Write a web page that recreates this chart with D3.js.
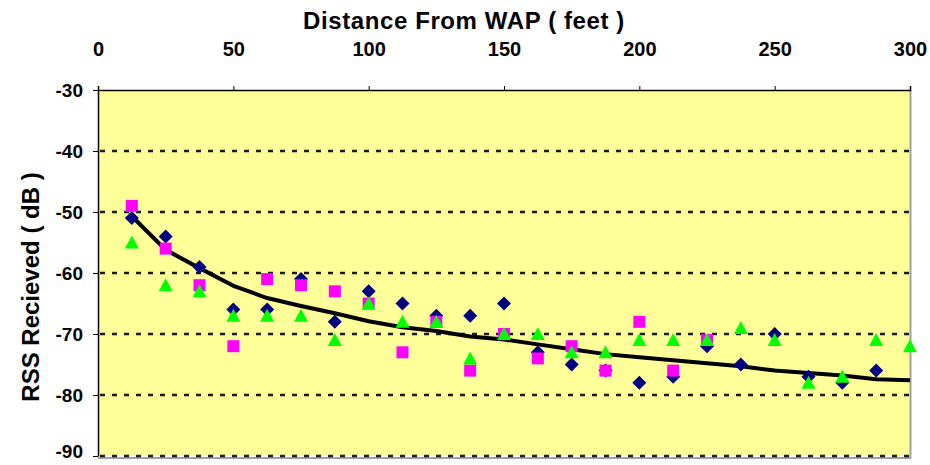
<!DOCTYPE html>
<html>
<head>
<meta charset="utf-8">
<script src="https://cdn.jsdelivr.net/npm/d3@7"></script>
<style>
  body { margin: 0; background: #fff; }
  svg { display: block; font-family: "Liberation Sans", Arial, sans-serif; }
</style>
</head>
<body>
<div id="chart"></div>
<script>
// distance in feet, RSS in dB
const distances = [12.5, 25, 37.5, 50, 62.5, 75, 87.5, 100, 112.5, 125, 137.5, 150,
  162.5, 175, 187.5, 200, 212.5, 225, 237.5, 250, 262.5, 275, 287.5, 300]

const seriesBlue = [-51, -54, -59, -66, -66, -61, -68, -63, -65, -67, -67, -65,
  -73, -75, -76, -78, -77, -72, -75, -70, -77, -78, -76, null]
const seriesPink = [-49, -56, -62, -72, -61, -62, -63, -65, -73, -68, -76, -70,
  -74, -72, -76, -68, -76, -71, null, null, null, null, null, null]
const seriesGreen = [-55, -62, -63, -67, -67, -67, -71, -65, -68, -68, -74, -70,
  -70, -73, -73, -71, -71, -71, -69, -71, -78, -77, -71, -72]
const trend = [-50.7, -56.2, -59.2, -62.1, -64.1, -65.4, -66.6, -67.9, -68.9, -69.5, -70.4, -70.9,
  -71.7, -72.5, -73.3, -73.8, -74.3, -74.8, -75.3, -76, -76.4, -76.8, -77.4, -77.6]

const xTicks = [0, 50, 100, 150, 200, 250, 300]
const yTicks = [-30, -40, -50, -60, -70, -80, -90]

const width = 930
const height = 465
const margin = { top: 90, right: 20, bottom: 9, left: 98 }

const svg = d3.select('#chart').append('svg')
  .attr('width', width)
  .attr('height', height)

const x = d3.scaleLinear().domain([0, 300]).range([margin.left, width - margin.right])
const y = d3.scaleLinear().domain([-90, -30]).range([height - margin.bottom, margin.top])

// plot area
svg.append('rect')
  .attr('x', x(0))
  .attr('y', y(-30))
  .attr('width', x(300) - x(0))
  .attr('height', y(-90) - y(-30))
  .attr('fill', '#ffff99')

// right / bottom border shadow
svg.append('line')
  .attr('x1', x(300) + 0.5).attr('x2', x(300) + 0.5)
  .attr('y1', y(-30)).attr('y2', y(-90) + 2)
  .attr('stroke', '#a0a0a0').attr('stroke-width', 2)
svg.append('line')
  .attr('x1', x(0)).attr('x2', x(300) + 1)
  .attr('y1', y(-90) + 2).attr('y2', y(-90) + 2)
  .attr('stroke', '#a0a0a0').attr('stroke-width', 2)

// gridlines
svg.append('g')
  .selectAll('line')
  .data(yTicks.filter((d) => d !== -30))
  .join('line')
  .attr('x1', x(0) + 2)
  .attr('x2', x(300))
  .attr('y1', (d) => y(d))
  .attr('y2', (d) => y(d))
  .attr('stroke', '#1a1a1a')
  .attr('stroke-width', 2.5)
  .attr('stroke-dasharray', '5,7')

// top axis
const xAxis = svg.append('g')
  .attr('transform', `translate(0, ${y(-30)})`)
  .call(d3.axisTop(x).tickValues(xTicks).tickSize(4).tickPadding(30).tickFormat((d) => String(d)))
xAxis.select('.domain').attr('stroke', '#000').attr('stroke-width', 1.5)
xAxis.selectAll('.tick line').attr('stroke', '#000')
xAxis.selectAll('text')
  .attr('font-size', 20)
  .attr('font-weight', 'bold')
  .attr('fill', '#000')

// left axis
const yAxis = svg.append('g')
  .attr('transform', `translate(${x(0)}, 0)`)
  .call(d3.axisLeft(y).tickValues(yTicks).tickSize(5).tickPadding(10).tickSizeOuter(0).tickFormat((d) => String(d)))
yAxis.select('.domain').attr('stroke', '#000').attr('stroke-width', 1.5)
yAxis.selectAll('.tick line').attr('stroke', '#000')
yAxis.selectAll('text')
  .attr('font-size', 19)
  .attr('font-weight', 'bold')
  .attr('fill', '#000')
// keep the bottom label inside the page
yAxis.selectAll('.tick')
  .filter((d) => d === -90)
  .select('text')
  .attr('dy', '0.1em')

// titles
svg.append('text')
  .attr('x', 464)
  .attr('y', 29)
  .attr('text-anchor', 'middle')
  .attr('font-size', 24)
  .attr('font-weight', 'bold')
  .attr('letter-spacing', 0.6)
  .text('Distance From WAP ( feet )')

svg.append('text')
  .attr('transform', `translate(39, 287) rotate(-90)`)
  .attr('text-anchor', 'middle')
  .attr('font-size', 24)
  .attr('font-weight', 'bold')
  .text('RSS Recieved ( dB )')

// trend line
const line = d3.line()
  .x((d, i) => x(distances[i]))
  .y((d) => y(d))

svg.append('path')
  .datum(trend)
  .attr('d', line)
  .attr('fill', 'none')
  .attr('stroke', '#000')
  .attr('stroke-width', 4)
  .attr('stroke-linejoin', 'round')

const pts = (vals) => vals.map((v, i) => ({ x: distances[i], v })).filter((d) => d.v !== null)

// diamonds
svg.append('g')
  .selectAll('path')
  .data(pts(seriesBlue))
  .join('path')
  .attr('transform', (d) => `translate(${x(d.x)}, ${y(d.v)})`)
  .attr('d', 'M0,-7L7,0L0,7L-7,0Z')
  .attr('fill', '#000080')

// squares
svg.append('g')
  .selectAll('rect')
  .data(pts(seriesPink))
  .join('rect')
  .attr('x', (d) => x(d.x) - 6)
  .attr('y', (d) => y(d.v) - 6)
  .attr('width', 12)
  .attr('height', 12)
  .attr('fill', '#ff00ff')

// triangles
svg.append('g')
  .selectAll('path')
  .data(pts(seriesGreen))
  .join('path')
  .attr('transform', (d) => `translate(${x(d.x)}, ${y(d.v)})`)
  .attr('d', 'M0,-7L7,6L-7,6Z')
  .attr('fill', '#00ff00')
</script>
</body>
</html>
